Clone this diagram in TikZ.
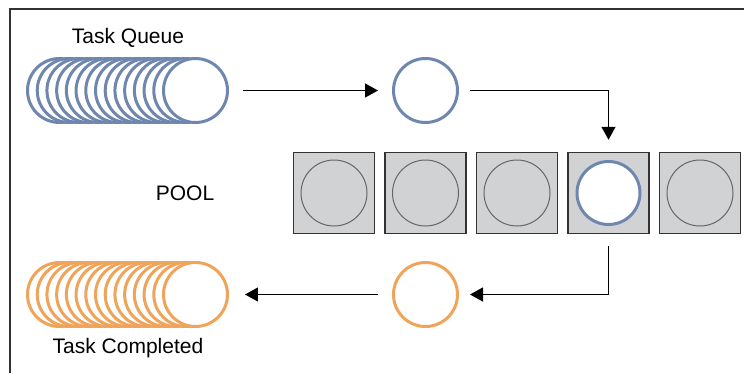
\documentclass[tikz,border=0pt]{standalone}
\usepackage{fontspec}
\setmainfont{Liberation Sans}
\usetikzlibrary{arrows.meta}
\definecolor{qblue}{HTML}{6F87AE}
\definecolor{qorange}{HTML}{F0A45A}
\definecolor{boxgray}{HTML}{D1D2D4}
\definecolor{boxedge}{HTML}{333333}
\definecolor{ringgray}{HTML}{666666}
\tikzset{
  bluetask/.style={circle, draw=qblue, line width=3pt, fill=white, minimum size=64pt, inner sep=0pt},
  orangetask/.style={circle, draw=qorange, line width=3pt, fill=white, minimum size=64pt, inner sep=0pt},
  poolbox/.style={rectangle, draw=boxedge, line width=1.5pt, fill=boxgray, minimum size=81pt, inner sep=0pt},
  slotring/.style={circle, draw=ringgray, line width=1pt, minimum size=66pt, inner sep=0pt},
  flow/.style={line width=1.3pt, -{Triangle[length=13pt,width=14pt]}},
  label/.style={font=\fontsize{21}{25}\selectfont, inner sep=0pt},
}
\begin{document}
\begin{tikzpicture}[x=1pt,y=-1pt]
\useasboundingbox (0,0) rectangle (744,373);
\coordinate (fbl) at (10,373);
\coordinate (ftl) at (10,9);
\coordinate (ftr) at (744,9);
\draw[line width=1.5pt, draw=boxedge] (fbl) -- (ftl) -- (ftr);

% Task queue stack
\foreach \i in {0,...,14} {
  \node[bluetask] (q\i) at ({59.5+\i*9.714},90.5) {};
}
\node[label] (tq) at (128,38) {Task Queue};

% Completed stack
\foreach \i in {0,...,14} {
  \node[orangetask] (d\i) at ({59.5+\i*9.714},294.5) {};
}
\node[label] (tc) at (128,348) {Task Completed};

% moving tasks
\node[bluetask] (c2) at (425.5,90.5) {};
\node[orangetask] (c3) at (425.5,294.5) {};

% Pool
\node[label] (pool) at (185,193) {POOL};
\foreach \i/\x in {1/334,2/425.5,3/517,4/608.5,5/700} {
  \node[poolbox] (b\i) at (\x,193) {};
}
\node[slotring] (r1) at (b1) {};
\node[slotring] (r2) at (b2) {};
\node[slotring] (r3) at (b3) {};
\node[bluetask, minimum size=63pt] (r4) at (b4) {};
\node[slotring] (r5) at (b5) {};

% arrows
\draw[flow, shorten <=14pt, shorten >=14pt] (q14.east) -- (c2.west);
\draw[flow, shorten <=11pt, shorten >=12pt] (c2.east) -- (c2.east -| b4.north) -- (b4.north);
\coordinate (turn) at (b4.south |- c3.east);
\draw[flow, shorten <=12pt, shorten >=11pt] (b4.south) -- (turn) -- (c3.east);
\draw[flow, shorten <=14pt, shorten >=16pt] (c3.west) -- (d14.east);
\end{tikzpicture}
\end{document}
